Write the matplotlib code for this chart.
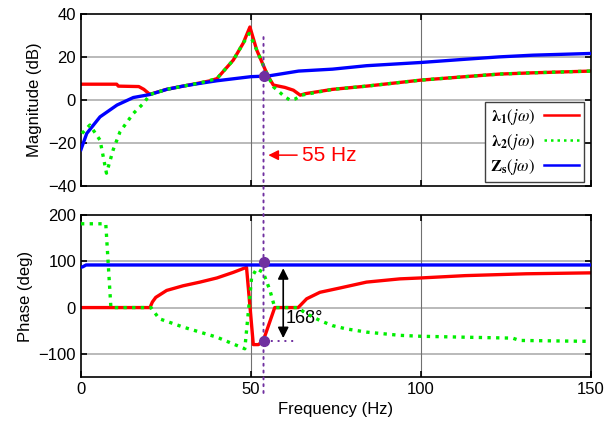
import matplotlib
matplotlib.use("Agg")
import matplotlib.pyplot as plt
from matplotlib.patches import ConnectionPatch

plt.rcParams["font.family"] = ["Liberation Sans", "DejaVu Sans"]
plt.rcParams["mathtext.fontset"] = "stix"

# Magnitude data (dB)
f_zs = [0, 1.7, 5.6, 10.6, 15.4, 20.3, 25.2, 30, 35, 40, 50, 55, 64, 74, 84, 100, 113, 123, 133, 150]
zs_mag = [-23, -15.5, -7.8, -2.3, 1.2, 2.6, 5.0, 6.5, 7.8, 9, 10.9, 11.2, 13.5, 14.4, 16, 17.5, 19, 20.1, 20.9, 21.7]

f_l1 = [0, 10.5, 11, 17, 18.5, 20, 20.5, 25.2, 30, 35, 38, 40, 44.8, 47.7, 49.7, 51.7, 55, 56.6,
        60, 62.5, 64.5, 66, 74, 84, 100, 113, 123, 133, 150]
l1_mag = [7.4, 7.4, 6.5, 6.3, 5, 3, 2.8, 5.0, 6.5, 8, 9, 10, 18.6, 26.4, 34, 23.3, 11.2, 7,
          5.9, 4.6, 2.3, 3, 5, 6.5, 9.3, 10.9, 12.1, 12.7, 13.5]

f_l2 = [0.3, 2.6, 5.6, 7.5, 9.5, 11.5, 15.4, 18.4, 20.3, 25.2, 30, 35, 40, 44.8, 47.7, 49.5, 51.7,
        55, 56.6, 60, 61.5, 63, 64.9, 74, 84, 100, 113, 123, 133, 150]
l2_mag = [-15.5, -11.6, -18.6, -34, -23, -14.7, -6.2, -1.5, 2.6, 5.0, 6.5, 8, 10, 18.6, 26.4, 31, 23.3,
          11.2, 6.2, 1.5, 0, 0.5, 2.3, 5, 6.5, 9.3, 10.9, 12.1, 12.7, 13.5]

# Phase data (deg)
f_zs_ph = [0, 0.5, 1.5, 150]
zs_ph = [87, 88, 92, 92]

f_l1_ph = [0, 20.3, 21, 22, 25.2, 30, 35, 40, 44.8, 48.7, 50.7, 52.2, 53.6, 57, 63.9, 66.4,
           70.3, 76, 84, 93.8, 100, 113, 131, 150]
l1_ph = [0, 0, 12, 22, 37, 47, 55, 64, 76, 87, -80, -80, -72, 0, 0, 19,
         33, 42, 55, 62, 64, 69, 73, 75]

f_l2_ph = [0, 7.3, 8.8, 20.6, 23, 30, 40, 48.2, 50.2, 51.7, 53.6, 55.6, 57, 63.9, 66, 70.3,
           74, 78, 84, 93.8, 100, 113, 127, 129, 150]
l2_ph = [181, 181, 0, 0, -24, -42, -64, -89, 65, 84, 76, 37, 0, 0, -12, -28,
         -39, -46, -53, -60, -62, -64, -66, -71, -73]

# Marked points
f_mark = 53.7
mag_mark = 11.2
ph_mark_hi = 98
ph_mark_lo = -72

RED = "#ff0000"
GREEN = "#00ee00"
BLUE = "#0000ff"
PURPLE = "#7030a0"
LW = 2.4
DOTS = (0, (1, 2.5))

fig = plt.figure(figsize=(6.07, 4.41), dpi=100)
ax1 = fig.add_axes([0.1334, 0.578, 0.840, 0.390])
ax2 = fig.add_axes([0.1334, 0.1451, 0.840, 0.3674])


def style(ax, grid_y):
    ax.set_xlim(0, 150)
    ax.set_xticks([0, 50, 100, 150])
    for y in grid_y:
        ax.axhline(y, color="#b4b4b4", lw=1.3, zorder=0.5)
    for x in [50, 100]:
        ax.axvline(x, color="#707070", lw=0.8, zorder=0.5)
    ax.tick_params(direction="in", top=True, right=True, length=4, width=1.2,
                   labelsize=12)
    for s in ax.spines.values():
        s.set_linewidth(1.2)


# Magnitude
h1, = ax1.plot(f_l1, l1_mag, color=RED, lw=LW, zorder=2)
h3, = ax1.plot(f_zs, zs_mag, color=BLUE, lw=LW, zorder=3)
h2, = ax1.plot(f_l2, l2_mag, color=GREEN, lw=LW, ls=(0, (1, 1.6)), zorder=4)
ax1.set_ylim(-40, 40)
ax1.set_yticks([-40, -20, 0, 20, 40])
style(ax1, [-20, 0, 20])
ax1.set_xticklabels([])
ax1.set_ylabel("Magnitude (dB)", fontsize=12)
ax1.plot([f_mark], [mag_mark], "o", color=PURPLE, ms=7, zorder=6)

leg = ax1.legend([h1, h2, h3],
                 [r"$\mathbf{\lambda_1}(j\omega)$", r"$\mathbf{\lambda_2}(j\omega)$",
                  r"$\mathbf{Z_s}(j\omega)$"],
                 loc="lower right", bbox_to_anchor=(0.986, 0.023), borderaxespad=0,
                 fontsize=12, fancybox=False, framealpha=1, edgecolor="#404040",
                 markerfirst=False, handlelength=2.1, labelspacing=0.3,
                 handletextpad=0.5, borderpad=0.3)
leg.get_frame().set_linewidth(1.0)
for line in leg.get_lines():
    line.set_linewidth(1.8)

ax1.annotate("", xy=(f_mark + 0.6, -25.6), xytext=(64.4, -25.6),
             arrowprops=dict(arrowstyle="-|>", color=RED, lw=1.1, mutation_scale=15))
ax1.text(65, -25.6, "55 Hz", color=RED, fontsize=15, va="center", ha="left")

# Phase
ax2.plot(f_l1_ph, l1_ph, color=RED, lw=LW, zorder=2)
ax2.plot(f_zs_ph, zs_ph, color=BLUE, lw=LW, zorder=3)
ax2.plot(f_l2_ph, l2_ph, color=GREEN, lw=LW, ls=(0, (1, 1.6)), zorder=4)
ax2.set_ylim(-150, 200)
ax2.set_yticks([-100, 0, 100, 200])
style(ax2, [-100, 0, 100])
ax2.set_xlabel("Frequency (Hz)", fontsize=12)
ax2.set_ylabel("Phase (deg)", fontsize=12)
ax2.plot([f_mark, f_mark], [ph_mark_hi, ph_mark_lo], "o", color=PURPLE, ms=7, zorder=6)
ax2.plot([f_mark, 63.4], [ph_mark_lo, ph_mark_lo], ls=DOTS, color=PURPLE, lw=1.4, zorder=5)
ax2.annotate("", xy=(59.5, ph_mark_lo), xytext=(59.5, 91),
             arrowprops=dict(arrowstyle="<|-|>", color="black", lw=1.2, mutation_scale=16))
ax2.text(60.2, -24, "168°", fontsize=13, va="center", ha="left")

# dotted marker line across both panels
con = ConnectionPatch(xyA=(f_mark, 29.3), coordsA=ax1.transData,
                      xyB=(f_mark, -185), coordsB=ax2.transData,
                      ls=DOTS, color=PURPLE, lw=1.4, zorder=5)
fig.add_artist(con)

fig.savefig("out.png", dpi=100)
